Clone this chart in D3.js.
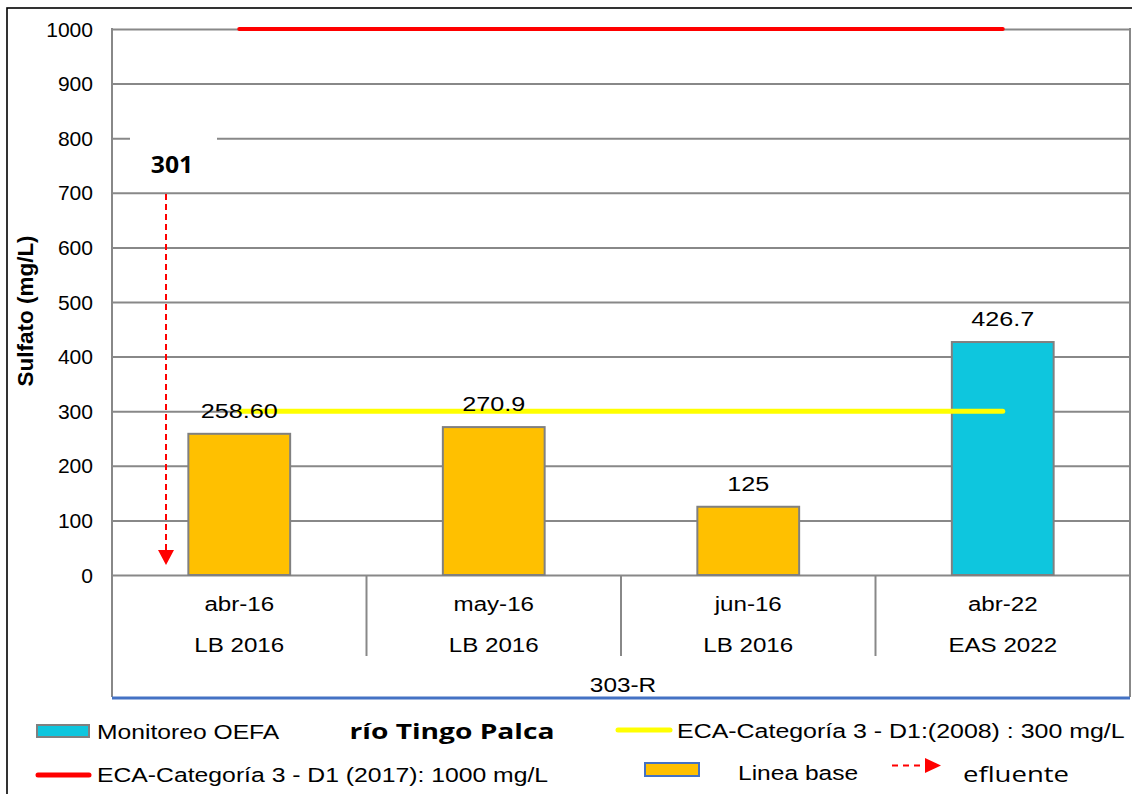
<!DOCTYPE html>
<html>
<head>
<meta charset="utf-8">
<script src="https://cdn.jsdelivr.net/npm/d3@7"></script>
<style>
  html, body { margin: 0; padding: 0; background: #fff; }
  svg { display: block; }
</style>
</head>
<body>
<div id="chart"></div>
<script>
// ---------- data ----------
const categories = ["abr-16", "may-16", "jun-16", "abr-22"];
const campaigns = ["LB 2016", "LB 2016", "LB 2016", "EAS 2022"];
const station = "303-R";
const sulfato = [258.6, 270.9, 125, 426.7];
const valueLabels = ["258.60", "270.9", "125", "426.7"];
const seriesType = ["base", "base", "base", "oefa"];
const eca2008 = [300, 300, 300, 300];
const eca2017 = [1000, 1000, 1000, 1000];
const yTicks = [0, 100, 200, 300, 400, 500, 600, 700, 800, 900, 1000];
const effluentLabel = "301";
const riverName = "río Tingo Palca";
const yTitle = "Sulfato (mg/L)";
const legendLabels = {
  oefa: "Monitoreo OEFA",
  eca2008: "ECA-Categoría 3 - D1:(2008) : 300 mg/L",
  eca2017: "ECA-Categoría 3 - D1 (2017): 1000 mg/L",
  base: "Linea base",
  efluente: "efluente"
};

// ---------- setup ----------
const W = 1132, H = 794;
const C = {
  base: "#FFC000", oefa: "#0EC6DE", grid: "#888888", red: "#FF0000",
  yellow: "#FFFF00", blue: "#4472C4", bar: "#808080"
};
const ARIAL = "'Liberation Sans', Arial, Helvetica, sans-serif";
const OPEN = "'Open Sans', 'Noto Sans', sans-serif";

const svg = d3.select("#chart").append("svg").attr("width", W).attr("height", H);
svg.append("rect").attr("width", W).attr("height", H).attr("fill", "#fff");

// outer frame (right/bottom off-canvas)
svg.append("rect").attr("x", 7).attr("y", 8).attr("width", W + 20).attr("height", H + 20)
  .attr("fill", "none").attr("stroke", "#000").attr("stroke-width", 1.6);

const pL = 112, pR = 1130, pT = 29, pB = 575, axisBottom = 697;
const y = d3.scaleLinear().domain([0, 1000]).range([pB, pT]);
const x = d3.scaleBand().domain(categories).range([pL, pR]).paddingInner(0).paddingOuter(0);
const bw = x.bandwidth();

function stext(sel, px, py, str, o) {
  return sel.append("text")
    .attr("transform", `translate(${px},${py}) scale(${o.sx || 1},1)`)
    .attr("text-anchor", o.anchor || "start")
    .style("font-family", o.family || ARIAL)
    .style("font-size", o.size + "px")
    .style("font-weight", o.weight || "normal")
    .attr("fill", "#000")
    .text(str);
}

// ---------- gridlines + y tick labels via axis ----------
const yAxis = d3.axisLeft(y).tickValues(yTicks).tickSize(-(pR - pL)).tickPadding(19).tickFormat(d3.format("d"));
const gy = svg.append("g").attr("transform", `translate(${pL},0)`).call(yAxis);
gy.select(".domain").remove();
gy.selectAll(".tick line").attr("stroke", C.grid).attr("stroke-width", 2);
gy.selectAll(".tick text")
  .attr("x", null).attr("dy", null)
  .attr("transform", "translate(-19,7) scale(1.08,1)")
  .style("font-family", ARIAL).style("font-size", "19.5px").attr("fill", "#000");

// frame verticals
svg.append("line").attr("x1", pL).attr("x2", pL).attr("y1", pT - 1).attr("y2", axisBottom)
  .attr("stroke", C.grid).attr("stroke-width", 2);
svg.append("line").attr("x1", pR).attr("x2", pR).attr("y1", pT - 1).attr("y2", axisBottom)
  .attr("stroke", C.grid).attr("stroke-width", 2);

// category separators
categories.slice(1).forEach(c => {
  svg.append("line").attr("x1", x(c)).attr("x2", x(c)).attr("y1", pB).attr("y2", 656)
    .attr("stroke", C.grid).attr("stroke-width", 2);
});

// bottom blue line
svg.append("line").attr("x1", pL).attr("x2", pR).attr("y1", 698).attr("y2", 698)
  .attr("stroke", C.blue).attr("stroke-width", 3);

// ---------- effluent annotation ----------
const annX = 166;
svg.append("rect").attr("x", 130).attr("y", 128).attr("width", 87).attr("height", 50).attr("fill", "#fff");
stext(svg, 172, 173, effluentLabel, { size: 24, weight: "bold", family: OPEN, anchor: "middle", sx: 1.03 });
svg.append("line").attr("x1", annX).attr("x2", annX).attr("y1", 194).attr("y2", 551)
  .attr("stroke", C.red).attr("stroke-width", 2).attr("stroke-dasharray", "6,4");
svg.append("path").attr("d", `M${annX - 8},550 L${annX + 8},550 L${annX},565 Z`).attr("fill", C.red);

// ---------- bars ----------
const barW = bw * 0.4;
svg.append("g").selectAll("rect").data(categories).join("rect")
  .attr("x", (c) => x(c) + bw / 2 - barW / 2)
  .attr("y", (c, i) => y(sulfato[i]))
  .attr("width", barW)
  .attr("height", (c, i) => y(0) - y(sulfato[i]))
  .attr("fill", (c, i) => C[seriesType[i]])
  .attr("stroke", C.bar).attr("stroke-width", 2);

// ---------- ECA lines ----------
const lineGen = d3.line().x((d, i) => x(categories[i]) + bw / 2).y(d => y(d));
svg.append("path").datum(eca2017).attr("d", lineGen).attr("fill", "none")
  .attr("stroke", C.red).attr("stroke-width", 4).attr("stroke-linecap", "round");
svg.append("path").datum(eca2008).attr("d", lineGen).attr("fill", "none")
  .attr("stroke", C.yellow).attr("stroke-width", 5).attr("stroke-linecap", "round");

// ---------- value labels ----------
categories.forEach((c, i) => {
  stext(svg, x(c) + bw / 2, y(sulfato[i]) - 16, valueLabels[i], { size: 21, anchor: "middle", sx: 1.2 });
});

// ---------- x axis labels ----------
categories.forEach((c, i) => {
  stext(svg, x(c) + bw / 2, 611, c, { size: 21, anchor: "middle", sx: 1.15 });
  stext(svg, x(c) + bw / 2, 652, campaigns[i], { size: 21, anchor: "middle", sx: 1.15 });
});
stext(svg, (pL + pR) / 2 + 2, 692, station, { size: 21, anchor: "middle", sx: 1.16 });

// ---------- y title ----------
svg.append("text")
  .attr("transform", "translate(33,311) rotate(-90)")
  .attr("text-anchor", "middle")
  .style("font-family", ARIAL).style("font-size", "22.5px").style("font-weight", "bold")
  .attr("fill", "#000").text(yTitle);

// ---------- legend ----------
const lg = svg.append("g");
// row 1
lg.append("rect").attr("x", 37).attr("y", 725).attr("width", 52).attr("height", 12)
  .attr("fill", C.oefa).attr("stroke", C.bar).attr("stroke-width", 2);
stext(lg, 97, 739, legendLabels.oefa, { size: 19.5, sx: 1.265 });
stext(lg, 452, 739, riverName, { size: 22, weight: "bold", family: OPEN, anchor: "middle", sx: 1.28 });
lg.append("line").attr("x1", 618).attr("x2", 670).attr("y1", 730).attr("y2", 730)
  .attr("stroke", C.yellow).attr("stroke-width", 5).attr("stroke-linecap", "round");
stext(lg, 677, 738, legendLabels.eca2008, { size: 19.5, sx: 1.28 });
// row 2
lg.append("line").attr("x1", 38).attr("x2", 89).attr("y1", 775).attr("y2", 775)
  .attr("stroke", C.red).attr("stroke-width", 5).attr("stroke-linecap", "round");
stext(lg, 97, 782, legendLabels.eca2017, { size: 19.5, sx: 1.27 });
lg.append("rect").attr("x", 645).attr("y", 763).attr("width", 54).attr("height", 13)
  .attr("fill", C.base).attr("stroke", C.blue).attr("stroke-width", 2);
stext(lg, 738, 780, legendLabels.base, { size: 19.5, sx: 1.26 });
lg.append("line").attr("x1", 892).attr("x2", 926).attr("y1", 765.5).attr("y2", 765.5)
  .attr("stroke", C.red).attr("stroke-width", 2).attr("stroke-dasharray", "6,5");
lg.append("path").attr("d", "M925,758 L941,765.5 L925,773 Z").attr("fill", C.red);
stext(lg, 963, 782, legendLabels.efluente, { size: 22, family: OPEN, sx: 1.25 });
</script>
</body>
</html>
